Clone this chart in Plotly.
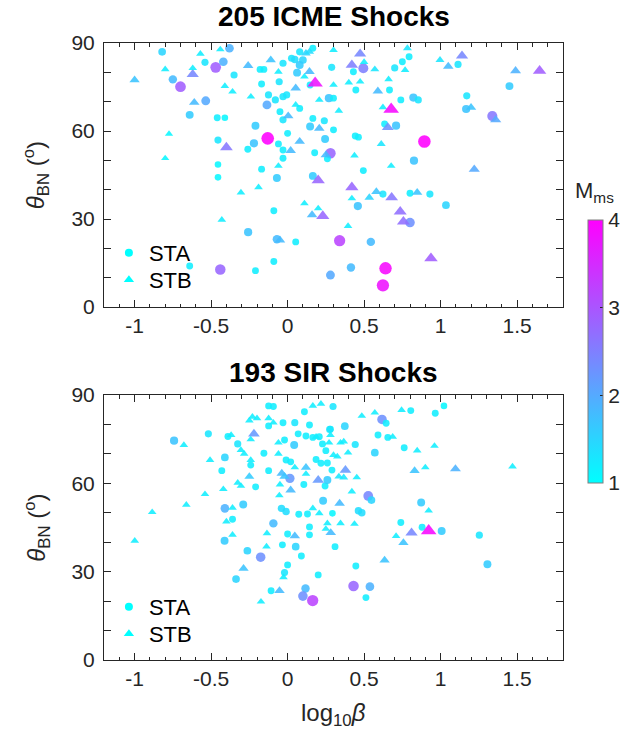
import numpy as np
import plotly.graph_objects as go

# ---------------- ICME-driven shocks ----------------
icme_sta_logbeta = [-0.82, -0.75, -0.70, -0.54, -0.47, -0.42, -0.38, -0.35, -0.535, -0.64,
                    -0.46, -0.41, -0.455, -0.455, -0.455, -0.18, -0.155, -0.03, 0.026, 0.047,
                    0.079, 0.10, 0.079, 0.165, 0.062, -0.055, -0.17, 0.147, -0.125, -0.135,
                    -0.08, -0.03, -0.006, 0.27, 0.30, -0.05, -0.03, 0.079, 0.165, 0.24,
                    0.147, 0.30, -0.21, 0.0, -0.13, -0.22, -0.26, -0.06, -0.03, 0.245,
                    0.177, 0.28, -0.17, -0.03, -0.07, 0.165, -0.09, -0.258, -0.07, 0.053,
                    -0.09, -0.21, -0.64, -0.44, 0.28, 0.495, 0.43, 0.288, 0.794, 0.75,
                    0.70, 0.666, 0.446, 0.74, 0.822, 0.854, 0.634, 0.709, 0.442, 0.463,
                    0.894, 0.26, 0.495, 0.826, 1.114, 1.171, 1.167, 1.338, 1.45, 0.623,
                    0.80, 0.93, 0.459, 1.035, 0.80, 0.34, 0.544, 0.414, 0.64, 0.623]
icme_sta_theta = [87.0, 77.6, 75.1, 83.4, 81.7, 83.6, 88.2, 79.1, 70.3, 65.5,
                  64.5, 64.5, 56.9, 48.6, 44.2, 81.0, 81.0, 83.1, 84.8, 84.4,
                  87.0, 84.2, 82.5, 88.2, 79.9, 76.8, 76.0, 75.7, 72.3, 68.9,
                  70.6, 71.7, 72.3, 71.2, 71.2, 66.6, 63.8, 67.7, 64.3, 63.5,
                  61.5, 60.4, 61.8, 59.2, 57.5, 55.8, 53.8, 55.6, 53.5, 57.3,
                  52.6, 52.4, 47.0, 50.7, 44.0, 44.7, 32.8, 25.5, 23.1, 22.2,
                  15.5, 12.4, 14.0, 12.8, 10.9, 81.4, 80.2, 81.7, 85.3, 83.6,
                  81.5, 74.0, 74.0, 70.6, 71.4, 70.6, 62.4, 61.8, 58.3, 57.9,
                  56.4, 50.5, 46.5, 49.9, 82.7, 72.0, 67.5, 65.1, 75.3, 38.5,
                  38.8, 38.5, 34.4, 34.7, 28.8, 22.6, 22.2, 13.5, 13.2, 7.4]
icme_sta_mms = [1.5, 1.8, 2.9, 1.3, 2.9, 1.9, 1.9, 1.3, 2.0, 1.6,
                1.2, 1.1, 1.3, 1.1, 1.1, 1.2, 1.2, 1.3, 1.3, 1.4,
                1.3, 1.5, 1.6, 1.2, 1.6, 1.3, 1.2, 1.2, 1.3, 2.0,
                1.3, 1.3, 1.3, 1.7, 1.2, 1.2, 1.3, 1.2, 1.2, 1.3,
                1.6, 1.2, 1.6, 1.2, 4.0, 1.7, 1.2, 1.2, 1.2, 1.6,
                1.2, 2.8, 1.2, 1.2, 1.6, 1.6, 1.2, 1.7, 1.8, 1.2,
                1.2, 1.2, 1.2, 2.8, 2.0, 2.5, 1.2, 1.3, 1.2, 1.2,
                1.3, 1.2, 1.2, 1.2, 1.7, 1.3, 1.2, 1.7, 1.2, 1.2,
                4.0, 1.2, 1.2, 1.7, 1.3, 1.3, 1.7, 2.6, 1.6, 1.3,
                1.2, 1.3, 1.7, 1.5, 2.3, 3.2, 1.8, 1.8, 3.9, 3.8]

icme_stb_logbeta = [-1.0, -0.80, -0.62, -0.62, -0.57, -0.44, -0.41, -0.36, -0.61, -0.775,
                    -0.80, -0.40, -0.258, -0.11, 0.12, 0.143, 0.30, -0.06, 0.143, 0.11,
                    0.053, 0.18, 0.30, -0.24, 0.207, 0.004, 0.053, 0.207, 0.02, 0.079,
                    0.25, -0.06, 0.20, -0.305, -0.19, 0.11, 0.20, 0.16, 0.23, -0.43,
                    -0.05, 0.474, 0.50, 0.42, 0.57, 0.783, 0.768, 0.66, 0.59, 0.474,
                    0.40, 0.623, 0.677, 0.655, 0.335, 0.612, 0.437, 0.677, 0.996, 1.05,
                    1.14, 1.199, 1.36, 1.49, 1.647, 1.22, 0.42, 0.42, 0.534, 0.58,
                    0.68, 0.847, 0.736, 0.757, 0.395, 0.937]
icme_stb_theta = [77.4, 81.0, 79.3, 81.4, 86.3, 87.8, 75.3, 73.4, 69.7, 59.0,
                  50.7, 54.4, 82.3, 84.2, 86.5, 87.0, 87.6, 80.2, 80.2, 78.5,
                  74.6, 76.3, 75.7, 71.7, 70.6, 65.1, 68.9, 60.9, 53.3, 56.4,
                  51.8, 48.1, 43.2, 39.0, 40.8, 35.3, 33.6, 31.4, 31.0, 29.7,
                  22.8, 86.3, 83.5, 82.5, 81.0, 88.2, 80.8, 77.6, 73.6, 76.8,
                  76.5, 68.1, 67.4, 61.2, 66.9, 55.6, 51.6, 48.1, 84.2, 82.0,
                  85.6, 68.0, 63.8, 80.5, 80.5, 46.9, 40.8, 37.0, 37.3, 39.3,
                  37.3, 39.0, 32.5, 29.1, 27.6, 16.6]
icme_stb_mms = [1.7, 1.2, 2.4, 1.2, 1.2, 1.2, 1.2, 1.2, 1.8, 1.1,
                1.1, 2.6, 1.8, 1.7, 1.5, 1.4, 1.2, 1.2, 1.8, 1.2,
                1.8, 3.8, 1.2, 1.2, 1.2, 1.8, 1.2, 1.8, 1.8, 1.8,
                1.8, 1.2, 2.8, 1.2, 1.2, 1.2, 1.2, 1.8, 2.8, 1.2,
                1.8, 2.4, 1.2, 2.5, 1.3, 1.3, 1.2, 1.2, 1.8, 1.2,
                1.2, 1.2, 3.9, 2.3, 1.2, 1.3, 1.2, 1.2, 1.3, 1.8,
                2.4, 1.7, 2.0, 1.9, 2.9, 2.0, 2.8, 1.2, 1.5, 1.7,
                2.6, 1.7, 2.7, 2.7, 1.2, 2.9]

# ---------------- SIR-driven shocks ----------------
sir_sta_logbeta = [-0.124, -0.093, 0.11, -0.124, -0.03, 0.047, 0.143, 0.28, -0.518, -0.39,
                   -0.742, -0.326, -0.02, 0.043, 0.069, 0.12, 0.165, 0.207, 0.228, 0.25,
                   -0.155, -0.41, -0.241, -0.01, 0.02, 0.186, 0.218, 0.26, -0.43, -0.124,
                   0.015, 0.245, -0.209, -0.41, -0.29, -0.36, -0.093, -0.04, -0.01, 0.073,
                   0.13, 0.232, 0.106, 0.143, 0.297, 0.617, 0.644, 0.805, 0.965, 1.022,
                   0.275, 0.374, 0.591, 0.655, 0.442, 0.57, 0.762, 0.29, 0.26, 0.527,
                   0.548, 0.293, 0.463, 0.485, 0.873, 0.74, 0.879, 1.007, 1.253, 1.306,
                   0.31, 0.446, 0.431, 0.538, 0.512, -0.412, 0.0, 0.143, -0.263, -0.034,
                   0.053, 0.09, -0.176, 0.0, -0.02, -0.337, 0.2, 0.117, -0.108, 0.1,
                   0.164]
sir_sta_theta = [86.3, 86.1, 84.3, 79.5, 80.6, 80.6, 79.8, 78.4, 76.8, 75.9,
                 74.5, 73.4, 74.7, 73.0, 76.8, 76.1, 75.6, 75.8, 73.4, 71.1,
                 70.2, 68.8, 66.2, 67.9, 67.3, 68.1, 66.8, 66.9, 64.3, 64.3,
                 61.7, 59.1, 58.8, 51.5, 52.8, 47.8, 46.4, 51.5, 50.4, 49.5,
                 49.6, 54.1, 59.6, 45.2, 86.1, 81.7, 80.4, 84.7, 83.8, 86.3,
                 78.3, 79.4, 76.4, 75.6, 73.2, 70.4, 72.1, 64.5, 61.1, 55.7,
                 54.3, 49.8, 50.7, 50.0, 53.5, 46.7, 45.1, 43.8, 42.4, 32.5,
                 38.5, 31.9, 25.1, 24.9, 21.2, 40.5, 42.8, 42.5, 37.1, 39.1,
                 38.5, 35.3, 34.9, 32.3, 29.7, 27.5, 28.9, 24.3, 23.5, 21.7,
                 20.2]
sir_sta_mms = [1.2, 1.2, 1.2, 1.2, 1.2, 1.3, 1.2, 1.2, 1.3, 1.2,
               1.7, 1.3, 1.2, 1.6, 1.2, 1.2, 1.2, 1.2, 1.2, 1.2,
               1.2, 1.5, 1.2, 1.2, 1.2, 1.2, 1.2, 1.2, 1.2, 1.2,
               2.2, 1.2, 1.2, 1.9, 1.6, 1.2, 1.8, 1.4, 1.4, 1.2,
               1.2, 1.6, 1.2, 1.2, 1.3, 2.3, 1.2, 1.2, 1.2, 1.1,
               1.3, 1.5, 1.2, 1.2, 1.3, 1.5, 1.2, 1.2, 1.6, 2.4,
               1.5, 1.1, 1.4, 1.4, 1.6, 1.2, 1.2, 1.6, 1.3, 1.6,
               1.2, 1.2, 2.8, 1.9, 1.2, 1.6, 1.2, 1.2, 1.5, 1.2,
               1.5, 1.2, 2.3, 1.2, 1.3, 1.5, 1.2, 1.8, 1.2, 2.3,
               3.2]

sir_stb_logbeta = [0.165, 0.218, -0.23, -0.20, -0.25, -0.124, -0.093, -0.22, -0.369, -0.241,
                   -0.678, -0.305, -0.284, -0.06, 0.186, 0.28, -0.06, -0.241, 0.047, 0.12,
                   0.30, -0.507, -0.038, -0.02, 0.12, 0.2, -0.326, -0.305, -0.25, -0.42,
                   -0.54, -0.662, -0.885, -0.36, -0.40, -0.05, -0.054, 0.165, 0.207, 0.26,
                   0.02, 0.485, 0.57, 0.745, 0.687, 0.271, 0.346, 0.367, 0.395, 0.325,
                   0.847, 0.96, 0.83, 0.90, 1.097, 1.47, 0.378, 0.335, 0.367, 0.452,
                   0.42, 0.34, 0.922, 0.346, 0.437, 0.282, 0.709, 0.81, 0.922, 0.757,
                   0.634, -0.999, -0.36, -0.135, 0.047, 0.25, -0.138, -0.288, -0.027, -0.053,
                   -0.174]
sir_stb_theta = [86.3, 87.0, 82.6, 82.1, 81.3, 82.1, 80.6, 76.8, 76.4, 74.9,
                 73.0, 71.3, 70.0, 73.8, 75.8, 76.4, 70.0, 67.9, 65.4, 65.4,
                 69.6, 67.9, 63.4, 62.3, 63.2, 61.1, 60.2, 59.1, 62.3, 58.0,
                 56.3, 52.7, 50.2, 51.7, 47.0, 59.6, 55.9, 51.5, 49.8, 46.4,
                 57.7, 82.9, 84.0, 84.9, 75.8, 73.8, 73.8, 74.2, 70.4, 69.1,
                 71.1, 72.7, 64.3, 65.4, 64.9, 65.7, 64.5, 62.3, 62.0, 62.0,
                 57.2, 53.2, 50.7, 46.4, 46.2, 43.2, 42.1, 43.2, 43.9, 39.8,
                 33.9, 40.5, 42.5, 43.0, 42.1, 44.5, 38.5, 31.1, 28.1, 23.5,
                 19.8]
sir_stb_mms = [1.2, 1.2, 1.2, 1.2, 1.2, 1.2, 1.2, 2.2, 1.2, 1.2,
               1.2, 1.2, 1.2, 1.2, 1.2, 1.2, 1.2, 1.2, 1.2, 1.7,
               1.2, 1.2, 1.8, 1.7, 1.2, 2.2, 1.2, 1.2, 1.6, 1.2,
               1.2, 1.2, 1.2, 1.2, 1.2, 1.2, 1.2, 1.2, 1.2, 1.2,
               1.8, 1.2, 1.2, 1.2, 1.2, 1.2, 1.2, 1.2, 1.2, 1.2,
               1.2, 1.2, 1.7, 1.2, 1.9, 1.2, 2.2, 1.3, 1.3, 1.2,
               1.2, 1.8, 1.2, 1.2, 1.2, 1.8, 1.2, 2.4, 3.9, 1.7,
               1.7, 1.2, 1.2, 1.2, 1.8, 1.2, 1.2, 1.7, 1.2, 1.8,
               1.2]

panel_titles = ["205 ICME Shocks", "193 SIR Shocks"]
station_names = ["STA", "STB"]
x_tickvals = [-1, -0.5, 0, 0.5, 1, 1.5]
x_ticktext = ["-1", "-0.5", "0", "0.5", "1", "1.5"]
y_tickvals = [0, 30, 60, 90]
cbar_tickvals = [1, 2, 3, 4]

# ---------------- styling ----------------
FONT = "Liberation Sans, Arial, Helvetica, sans-serif"
AX = "#262626"
COOL = [[0.0, "rgb(0,255,255)"], [1.0, "rgb(255,0,255)"]]
W, H = 636, 737
ML, MR, MT, MB = 104, 64, 43, 77
PW, PH = W - ML - MR, H - MT - MB
top_dom = [(660 - 307) / PH, 1.0]
bot_dom = [0.0, (660 - 395) / PH]


def px_x(p):
    return (p - ML) / PW


def px_y(p):
    return (660 - p) / PH


def msize(m, k=6.3):
    return list(k * np.sqrt(np.asarray(m, dtype=float)))


fig = go.Figure()

panels = [
    ("x", "y", icme_sta_logbeta, icme_sta_theta, icme_sta_mms,
     icme_stb_logbeta, icme_stb_theta, icme_stb_mms, ["legend", "legend2"]),
    ("x2", "y2", sir_sta_logbeta, sir_sta_theta, sir_sta_mms,
     sir_stb_logbeta, sir_stb_theta, sir_stb_mms, ["legend3", "legend4"]),
]

for i, (xa, ya, ax_, ay_, am_, bx_, by_, bm_, legs) in enumerate(panels):
    # shocks observed by STEREO-A (circles)
    fig.add_trace(go.Scatter(
        x=ax_, y=ay_, mode="markers", xaxis=xa, yaxis=ya, showlegend=False,
        marker=dict(symbol="circle", size=msize(am_), color=am_, colorscale=COOL,
                    cmin=1, cmax=4, opacity=0.88, line=dict(width=0),
                    showscale=(i == 0),
                    colorbar=dict(
                        x=px_x(597), xanchor="left", xpad=0,
                        y=px_y(483), yanchor="bottom", ypad=0,
                        len=263 / PH, lenmode="fraction", thickness=15,
                        outlinewidth=1, outlinecolor="#7f7f7f",
                        tickvals=cbar_tickvals, ticks="inside", ticklen=3,
                        tickcolor=AX, tickfont=dict(family=FONT, size=21, color=AX),
                    ))))
    # shocks observed by STEREO-B (triangles)
    fig.add_trace(go.Scatter(
        x=bx_, y=by_, mode="markers", xaxis=xa, yaxis=ya, showlegend=False,
        marker=dict(symbol="triangle-up", size=msize(bm_, 6.9), color=bm_,
                    colorscale=COOL, cmin=1, cmax=4, opacity=0.88,
                    line=dict(width=0), showscale=False)))
    # one legend box per station entry
    for name, sym, sz, leg in zip(station_names, ["circle", "triangle-up"], [8, 9], legs):
        fig.add_trace(go.Scatter(
            x=[None], y=[None], mode="markers", xaxis=xa, yaxis=ya, name=name,
            legend=leg, marker=dict(symbol=sym, size=sz, color="rgb(0,255,255)")))

xaxis_style = dict(
    range=[-1.2, 1.8], tickvals=x_tickvals, ticktext=x_ticktext,
    ticks="inside", ticklen=7, tickcolor=AX, tickwidth=1,
    minor=dict(dtick=0.1, tick0=0, ticks="inside", ticklen=3.5, tickcolor=AX),
    showline=True, linecolor=AX, linewidth=1, mirror="allticks",
    showgrid=False, zeroline=False,
    tickfont=dict(family=FONT, size=21, color=AX),
)
yaxis_style = dict(
    range=[0, 90], tickvals=y_tickvals,
    ticks="inside", ticklen=7, tickcolor=AX, tickwidth=1,
    minor=dict(dtick=10, tick0=0, ticks="inside", ticklen=7, tickcolor=AX),
    showline=True, linecolor=AX, linewidth=1, mirror="allticks",
    showgrid=False, zeroline=False, ticklabelstandoff=4,
    tickfont=dict(family=FONT, size=21, color=AX),
)


def legend_box(center_px):
    return dict(x=px_x(109), y=px_y(center_px - 21), xanchor="left", yanchor="top",
                bgcolor="rgba(0,0,0,0)", itemwidth=30,
                font=dict(family=FONT, size=22, color="black"))


fig.update_layout(
    width=W, height=H,
    margin=dict(l=ML, r=MR, t=MT, b=MB, pad=0),
    paper_bgcolor="white", plot_bgcolor="white",
    xaxis=dict(xaxis_style, anchor="y", domain=[0, 1]),
    yaxis=dict(yaxis_style, anchor="x", domain=top_dom),
    xaxis2=dict(xaxis_style, anchor="y2", domain=[0, 1]),
    yaxis2=dict(yaxis_style, anchor="x2", domain=bot_dom),
    legend=legend_box(253),
    legend2=legend_box(280),
    legend3=legend_box(607),
    legend4=legend_box(634),
)

annotations = []
for title, yc in zip(panel_titles, [17, 372]):
    annotations.append(dict(
        text=f"<b>{title}</b>", xref="paper", yref="paper",
        x=0.5, y=px_y(yc), xanchor="center", yanchor="middle",
        showarrow=False, font=dict(family=FONT, size=28, color="black")))
for yc in [175, 527.5]:
    annotations.append(dict(
        text="<i>θ</i><sub>BN</sub> (<sup>o</sup>)", xref="paper", yref="paper",
        x=px_x(35), y=px_y(yc), textangle=-90,
        xanchor="center", yanchor="middle", showarrow=False,
        font=dict(family=FONT, size=24, color=AX)))
annotations.append(dict(
    text="log<sub>10</sub><i>β</i>", xref="paper", yref="paper",
    x=0.5, y=px_y(715), xanchor="center", yanchor="middle",
    showarrow=False, font=dict(family=FONT, size=24, color=AX)))
# colour-bar heading
annotations.append(dict(
    text="M<sub>ms</sub>", xref="paper", yref="paper",
    x=px_x(604), y=px_y(192), xanchor="center", yanchor="middle",
    showarrow=False, font=dict(family=FONT, size=22, color=AX)))
fig.update_layout(annotations=annotations)

fig.write_html("out.html")
